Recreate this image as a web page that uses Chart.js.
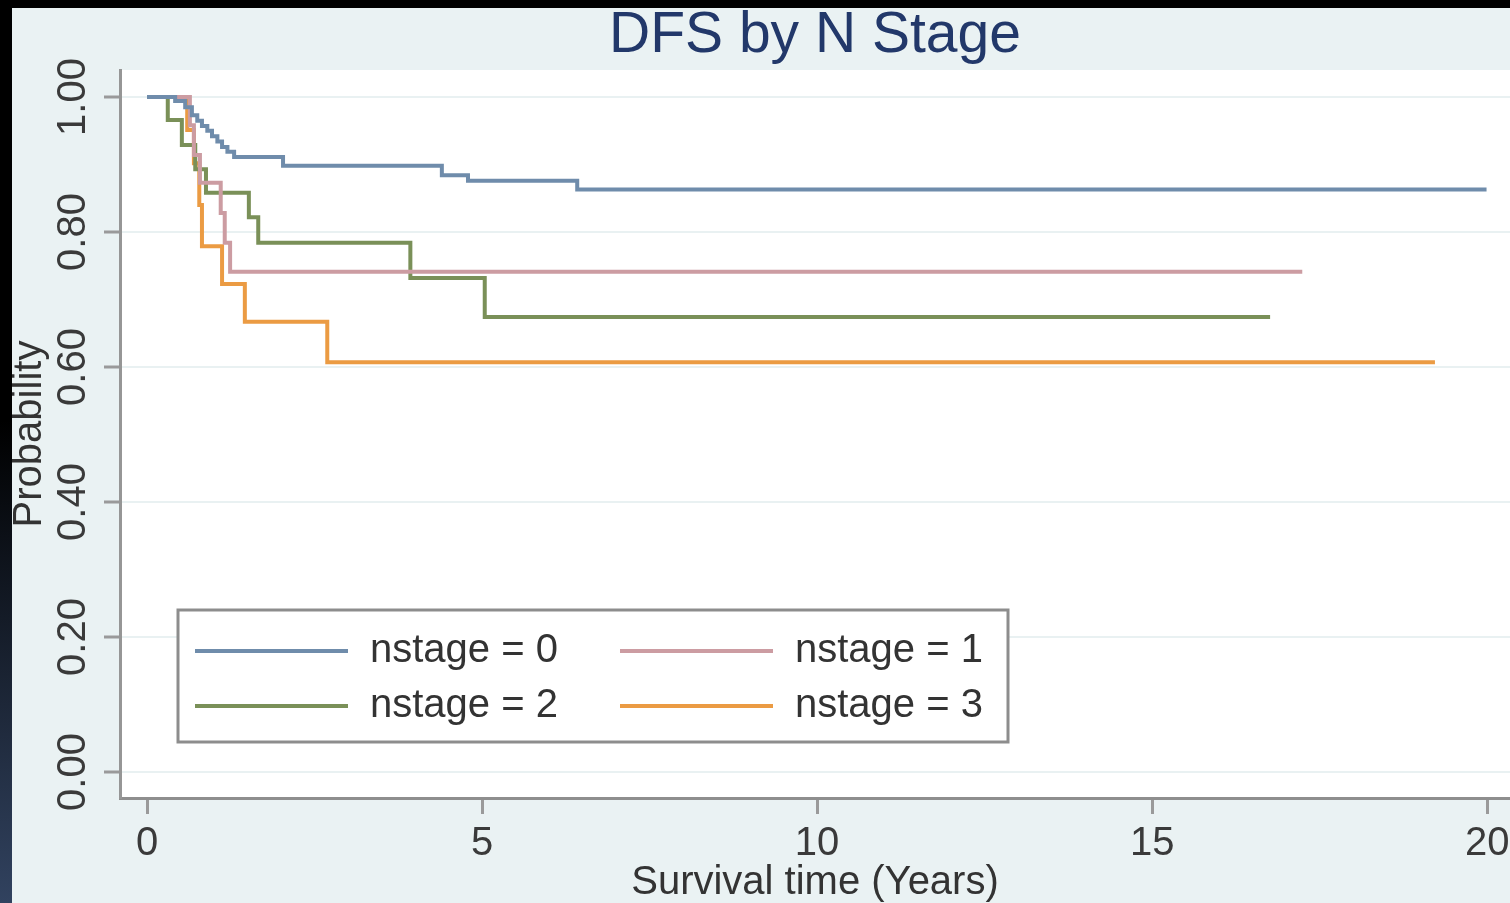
<!DOCTYPE html>
<html>
<head>
<meta charset="utf-8">
<title>DFS by N Stage</title>
<script src="https://cdn.jsdelivr.net/npm/chart.js@4.4.1/dist/chart.umd.min.js"></script>
<style>
  html, body { margin: 0; padding: 0; }
  body {
    width: 1510px; height: 903px; overflow: hidden; position: relative;
    background: linear-gradient(to bottom, #000 0px, #000 420px, #31425f 903px);
  }
  #wrap { position: absolute; left: 12px; top: 8px; width: 1498px; height: 895px; background: #eaf2f3; }
  canvas { display: block; }
</style>
</head>
<body>
<div id="wrap"><canvas id="km" width="1498" height="895"></canvas></div>
<script>
// Kaplan-Meier disease-free survival estimates, one step curve per N stage
const groupLabels = ['nstage = 0', 'nstage = 1', 'nstage = 2', 'nstage = 3'];

const stage0Time = [0, 0.42, 0.57, 0.67, 0.75, 0.82, 0.90, 0.97, 1.05, 1.12, 1.20, 1.30, 2.03, 4.40, 4.79, 6.42, 19.99];
const stage0Surv = [1.000, 0.994, 0.985, 0.973, 0.965, 0.957, 0.950, 0.942, 0.934, 0.926, 0.919, 0.911, 0.898, 0.884, 0.876, 0.863, 0.863];

const stage1Time = [0, 0.64, 0.70, 0.79, 1.10, 1.16, 1.24, 17.24];
const stage1Surv = [1.000, 0.958, 0.914, 0.873, 0.828, 0.784, 0.741, 0.741];

const stage2Time = [0, 0.31, 0.52, 0.72, 0.88, 1.52, 1.66, 3.93, 5.04, 16.76];
const stage2Surv = [1.000, 0.966, 0.929, 0.893, 0.858, 0.822, 0.784, 0.732, 0.674, 0.674];

const stage3Time = [0, 0.60, 0.70, 0.78, 0.82, 1.12, 1.46, 2.69, 19.22];
const stage3Surv = [1.000, 0.951, 0.902, 0.840, 0.779, 0.723, 0.667, 0.607, 0.607];

const xTicks = [0, 5, 10, 15, 20];
const xTickLabels = ['0', '5', '10', '15', '20'];
const yTicks = [0, 0.2, 0.4, 0.6, 0.8, 1.0];
const yTickLabels = ['0.00', '0.20', '0.40', '0.60', '0.80', '1.00'];

const lineColors = ['#6f8cab', '#cc9ca2', '#7a9058', '#eb9b43'];

function toPoints(times, surv) {
  return times.map((t, i) => ({ x: t, y: surv[i] }));
}

const series = [
  toPoints(stage0Time, stage0Surv),
  toPoints(stage1Time, stage1Surv),
  toPoints(stage2Time, stage2Surv),
  toPoints(stage3Time, stage3Surv)
];

Chart.defaults.font.family = '"Liberation Sans", Arial, Helvetica, sans-serif';
Chart.defaults.color = '#3a3a3a';

// White plot region
const plotBackground = {
  id: 'plotBackground',
  beforeDraw(chart) {
    const { ctx, chartArea: a } = chart;
    ctx.save();
    ctx.fillStyle = '#ffffff';
    ctx.fillRect(a.left, a.top, a.right - a.left, a.bottom - a.top);
    ctx.restore();
  }
};

// Boxed two-column legend inside the plot region
const boxedLegend = {
  id: 'boxedLegend',
  afterDatasetsDraw(chart) {
    const { ctx, chartArea: a } = chart;
    const left = a.left + 58, top = a.top + 540, width = 830, height = 132;
    ctx.save();
    ctx.fillStyle = '#ffffff';
    ctx.fillRect(left, top, width, height);
    ctx.strokeStyle = '#8d8d8d';
    ctx.lineWidth = 3;
    ctx.strokeRect(left, top, width, height);
    ctx.font = '40px "Liberation Sans", Arial, sans-serif';
    ctx.textBaseline = 'middle';
    ctx.textAlign = 'left';
    chart.data.datasets.forEach((ds, i) => {
      const col = i % 2, row = Math.floor(i / 2);
      const lx = left + 17 + col * 425;
      const ly = top + 41 + row * 55;
      ctx.strokeStyle = ds.borderColor;
      ctx.lineWidth = 4;
      ctx.beginPath();
      ctx.moveTo(lx, ly);
      ctx.lineTo(lx + 153, ly);
      ctx.stroke();
      ctx.fillStyle = '#333333';
      ctx.fillText(ds.label, lx + 175, ly);
    });
    ctx.restore();
  }
};

new Chart(document.getElementById('km'), {
  type: 'line',
  data: {
    datasets: series.map((pts, i) => ({
      label: groupLabels[i],
      data: pts,
      stepped: 'before',
      borderColor: lineColors[i],
      backgroundColor: lineColors[i],
      borderWidth: 4,
      pointRadius: 0,
      fill: false
    }))
  },
  options: {
    responsive: false,
    animation: false,
    events: [],
    layout: { padding: { top: 0, left: 0, right: 0, bottom: 0 } },
    plugins: {
      legend: { display: false },
      tooltip: { enabled: false },
      title: {
        display: true,
        fullSize: false,
        text: 'DFS by N Stage',
        color: '#22386a',
        font: { size: 57, weight: 'normal', lineHeight: 1 },
        padding: { top: 0, bottom: 5 }
      }
    },
    scales: {
      x: {
        type: 'linear',
        min: -0.403,
        max: 20.34,
        afterBuildTicks: s => { s.ticks = xTicks.map(v => ({ value: v })); },
        afterFit: s => { s.height = 105; s.paddingLeft = 0; s.paddingRight = 0; },
        ticks: {
          callback: (v, i) => xTickLabels[i],
          font: { size: 40 },
          color: '#3a3a3a',
          padding: 6,
          maxRotation: 0,
          minRotation: 0,
          autoSkip: false
        },
        grid: {
          drawOnChartArea: false,
          drawTicks: true,
          tickLength: 16,
          tickColor: '#9a9a9a',
          tickWidth: 3
        },
        border: { display: true, color: '#8e8e8e', width: 3 },
        title: {
          display: true,
          text: 'Survival time (Years)',
          color: '#333333',
          font: { size: 40, lineHeight: 1.0 },
          padding: { top: 0, bottom: 0 }
        }
      },
      y: {
        type: 'linear',
        min: -0.0385,
        max: 1.04,
        afterBuildTicks: s => { s.ticks = yTicks.map(v => ({ value: v })); },
        afterFit: s => { s.width = 108; s.paddingTop = 0; s.paddingBottom = 0; },
        ticks: {
          callback: (v, i) => yTickLabels[i],
          font: { size: 40 },
          color: '#3a3a3a',
          minRotation: 90,
          maxRotation: 90,
          crossAlign: 'center',
          padding: -9,
          autoSkip: false
        },
        grid: {
          color: '#e9f1f2',
          lineWidth: 2,
          drawTicks: true,
          tickLength: 16,
          tickColor: '#9a9a9a',
          tickWidth: 3
        },
        border: { display: true, color: '#969696', width: 3 },
        title: {
          display: true,
          text: 'Probability',
          color: '#333333',
          font: { size: 40, lineHeight: 0.9 },
          padding: { top: 0, bottom: 0 }
        }
      }
    }
  },
  plugins: [plotBackground, boxedLegend]
});
</script>
</body>
</html>
